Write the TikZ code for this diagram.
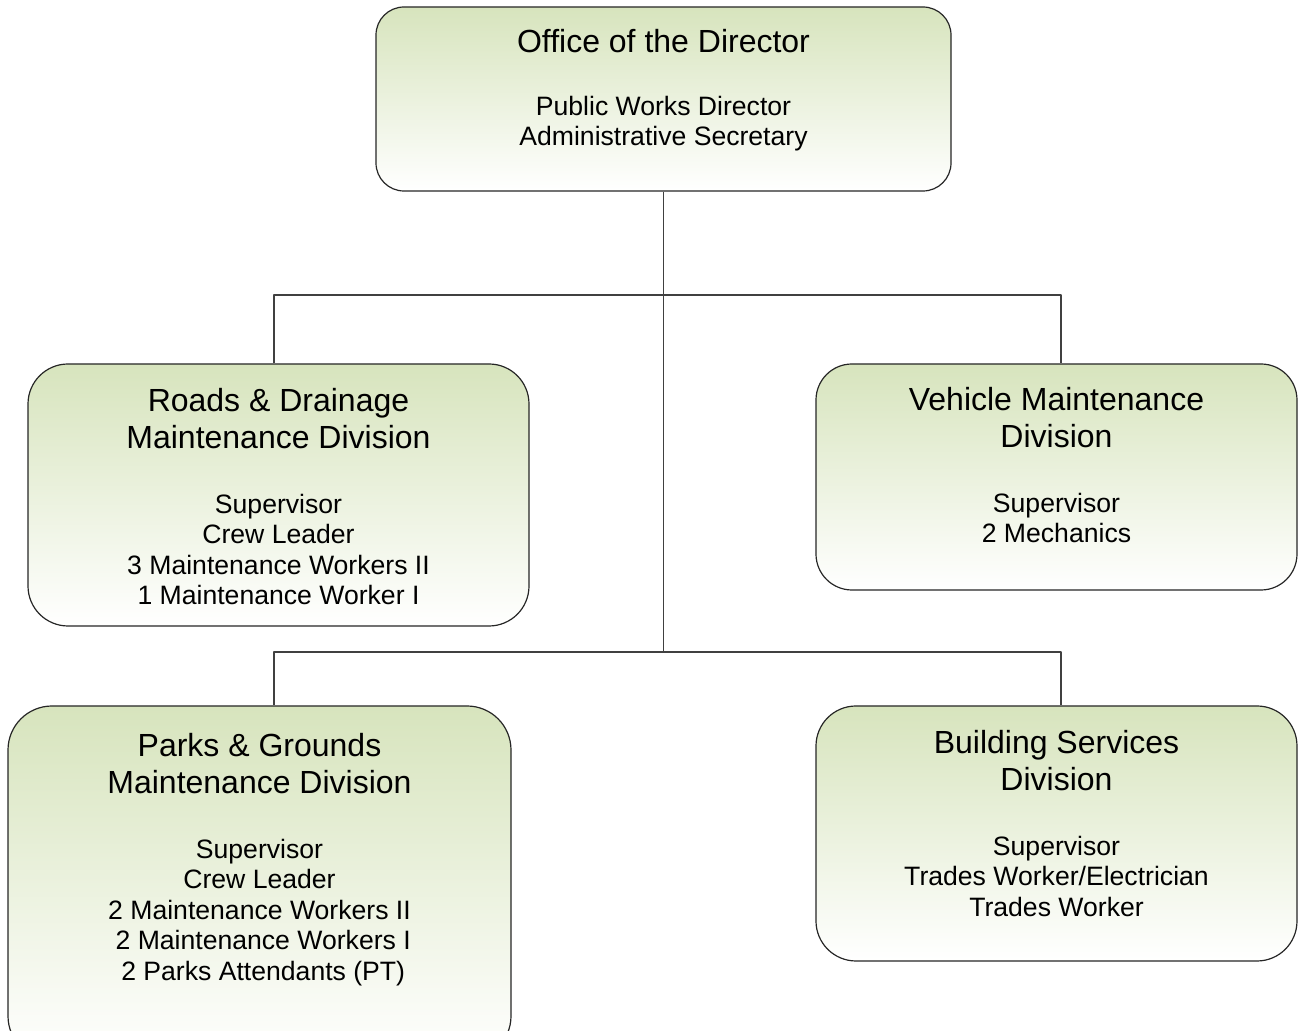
\documentclass[tikz,border=0pt]{standalone}
\usepackage{fontspec}
\setmainfont{Liberation Sans}
\usetikzlibrary{positioning}
\definecolor{olivetop}{HTML}{D7E4BD}
\newcommand{\unitname}[1]{{\fontsize{16}{18.5}\selectfont #1}}
\begin{document}
\begin{tikzpicture}[x=.5pt,y=-.5pt,line join=round,
	unit/.style={draw=black!85,line width=.6pt,top color=olivetop,bottom color=white,inner sep=0pt},
	staff/.style={align=center,inner sep=0pt,font=\fontsize{13.3}{15.3}\selectfont},
	wire/.style={draw=black!75,line width=.6pt}]
	\useasboundingbox (0,0) rectangle (1298,1031);
	\clip (0,0) rectangle (1298,1031);
	% bus ends
	\coordinate (tapL) at (274,295); \coordinate (tapR) at (1061,295);
	\coordinate (forkL) at (274,652); \coordinate (forkR) at (1061,652);
	% boxes
	\node[unit,minimum width=287.5pt,minimum height=92pt,rounded corners=14pt] (office) at (663.5,99) {};
	\node[unit,minimum width=250.5pt,minimum height=131pt,rounded corners=20pt] (roads) at (278.5,495) {};
	\node[unit,minimum width=240.5pt,minimum height=113pt,rounded corners=18pt] (vehicle) at (1056.5,477) {};
	\node[unit,minimum width=251.5pt,minimum height=177pt,rounded corners=22pt] (parks) at (259.5,883) {};
	\node[unit,minimum width=240.5pt,minimum height=127.5pt,rounded corners=20pt] (building) at (1056.5,833.5) {};
	% connectors
	\draw[wire] (office.south) -- (office.south |- forkL);
	\draw[wire] (roads.north -| tapL) |- (tapR) -- (vehicle.north -| tapR);
	\draw[wire] (parks.north -| forkL) |- (forkR) -- (building.north -| forkR);
	% texts
	\node[staff,below=11.5pt of office.north] (officeT) {\unitname{Office of the Director}\\[15.8pt]
		Public Works Director\\Administrative Secretary};
	\node[staff,below=12.5pt of roads.north] (roadsT) {\unitname{Roads \& Drainage}\\[3pt]\unitname{Maintenance Division}\\[17pt]
		Supervisor\\Crew Leader\\3 Maintenance Workers II\\1 Maintenance Worker I};
	\node[staff,below=12pt of vehicle.north] (vehicleT) {\unitname{Vehicle Maintenance}\\[3pt]\unitname{Division}\\[17pt]
		Supervisor\\2 Mechanics};
	\node[staff,below=14pt of parks.north] (parksT) {\unitname{Parks \& Grounds}\\[3pt]\unitname{Maintenance Division}\\[17pt]
		Supervisor\\Crew Leader\\2 Maintenance Workers II\\\ 2 Maintenance Workers I\\\ 2 Parks Attendants (PT)};
	\node[staff,below=12.5pt of building.north] (buildingT) {\unitname{Building Services}\\[3pt]\unitname{Division}\\[17pt]
		Supervisor\\Trades Worker/Electrician\\Trades Worker};
\end{tikzpicture}
\end{document}
